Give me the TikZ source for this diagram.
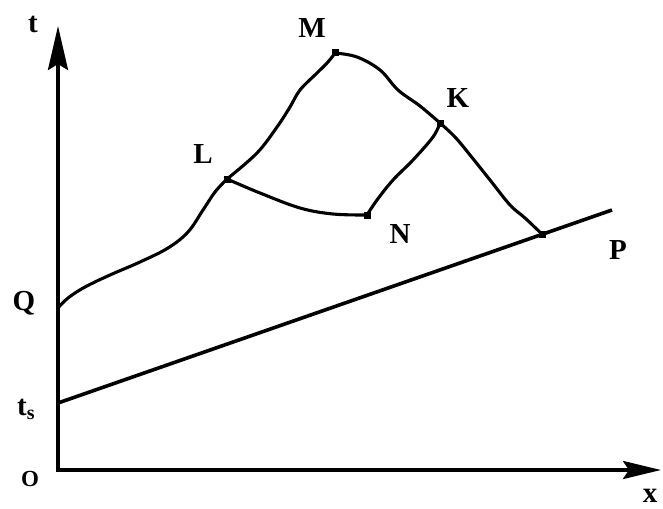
\documentclass[tikz,border=0pt]{standalone}
\usepackage{fontspec}
\setmainfont{Liberation Serif}
\usetikzlibrary{arrows.meta,calc}
\begin{document}
\begin{tikzpicture}[x=1pt,y=-1pt,
  lbl/.style={font=\fontsize{29}{29}\selectfont\bfseries, inner sep=0pt},
  axis/.style={line width=3.6pt},
  curve/.style={line width=3.1pt, line join=round, line cap=round},
  junc/.style={fill=black, minimum size=7pt, inner sep=0pt, rectangle}]
\useasboundingbox (0,0) rectangle (663,508);
% points
\coordinate (O) at (58,470);
\coordinate (ttip) at (58,26);
\coordinate (xtip) at (661,470);
\coordinate (Q) at (58,308);
\coordinate (ts) at (58,403);
\coordinate (lend) at (612,210);
\coordinate (L) at (227,179);
\coordinate (M) at (335,53);
\coordinate (K) at (440,123);
\coordinate (N) at (367,215);
\coordinate (P) at ($(ts)!0.874!(lend)$);
% axes
\draw[axis, -{Stealth[length=44pt,width=20pt,inset=6pt]}] (O) -- (ttip);
\draw[axis, -{Stealth[length=38pt,width=18pt,inset=6pt]}] ([xshift=-1.8pt]O) -- (xtip);
% straight line
\draw[line width=3.6pt] (ts) -- (lend);
% curves
\draw[curve] plot[smooth, tension=0.6] coordinates {(Q) (68,298) (85,287) (110,275) (140,262) (168,248) (188,232) (203,210) (215,192) (L)};
\draw[curve] plot[smooth, tension=0.6] coordinates {(L) (257,153) (277,127) (290,107) (300,90) (317,73) (328,62) (M)};
\draw[curve] plot[smooth, tension=0.6] coordinates {(M) (357,57) (380,70) (398,90) (420,106) (K)};
\draw[curve] plot[smooth, tension=0.6] coordinates {(K) (455,137) (470,155) (490,180) (510,205) (525,218) (P)};
\draw[curve] plot[smooth, tension=0.6] coordinates {(L) (260,193) (300,208) (333,214) (N)};
\draw[curve] plot[smooth, tension=0.6] coordinates {(N) (377,200) (393,180) (413,160) (433,137) (K)};
% junction marks
\foreach \p in {L,M,K,N,P} \node[junc] at (\p) {};
% labels
\node[lbl] (tl) at (33,24) {t};
\node[lbl] (ql) at (24,303) {Q};
\node[lbl, anchor=base west] (tsl) at (17,415) {t\raisebox{-4pt}{\fontsize{20}{20}\selectfont s}};
\node[lbl, font=\fontsize{23}{23}\selectfont\bfseries] (ol) at (30,479) {O};
\node[lbl] (pl) at (618,250) {P};
\node[lbl] (xl) at (650,496) {x};
\node[lbl] (ll) at (203,154) {L};
\node[lbl] (nl) at (400,234) {N};
\node[lbl] (ml) at (312,28) {M};
\node[lbl] (kl) at (458,98) {K};
\end{tikzpicture}
\end{document}
